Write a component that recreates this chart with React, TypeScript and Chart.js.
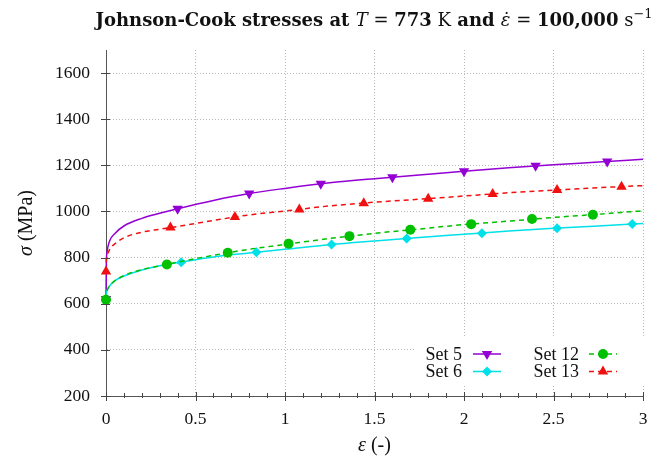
import React, { useEffect, useRef } from 'react';
import { Chart, registerables } from 'chart.js';

Chart.register(...registerables);

// ---- data ----
const STRAIN = [0, 0.002, 0.006, 0.02, 0.05, 0.1, 0.2, 0.3, 0.4, 0.6, 0.8, 1.0, 1.25, 1.5, 1.75, 2.0, 2.25, 2.5, 2.75, 3.0];

const SET5_CURVE = [620, 775, 825, 872, 905, 937, 970, 992, 1012, 1048, 1078, 1100, 1124, 1142, 1158, 1174, 1189, 1203, 1214, 1226];
const SET6_CURVE = [617, 640, 658, 677, 700, 720, 746, 765, 778, 803, 820, 836, 856, 872, 887, 901, 915, 927, 937, 948];
const SET12_CURVE = [617, 638, 655, 677, 700, 722, 748, 764, 780, 810, 836, 857, 883, 905, 924, 943, 958, 974, 988, 1003];
const SET13_CURVE = [740, 790, 808, 835, 860, 886, 910, 923, 935, 961, 985, 1002, 1024, 1040, 1053, 1067, 1081, 1092, 1103, 1112];

const SET5_MARK_X = [0, 0.4, 0.8, 1.2, 1.6, 2.0, 2.4, 2.8];
const SET5_MARK_Y = [620, 1012, 1078, 1120, 1148, 1174, 1198, 1217];
const SET6_MARK_X = [0, 0.42, 0.84, 1.26, 1.68, 2.1, 2.52, 2.94];
const SET6_MARK_Y = [617, 780, 823, 857, 883, 906, 927, 946];
const SET12_MARK_X = [0, 0.34, 0.68, 1.02, 1.36, 1.7, 2.04, 2.38, 2.72];
const SET12_MARK_Y = [617, 770, 821, 860, 893, 921, 945, 967, 986];
const SET13_MARK_X = [0, 0.36, 0.72, 1.08, 1.44, 1.8, 2.16, 2.52, 2.88];
const SET13_MARK_Y = [740, 930, 976, 1008, 1036, 1055, 1076, 1093, 1107];

const X_TICKS = [0, 0.5, 1, 1.5, 2, 2.5, 3];
const Y_TICKS = [200, 400, 600, 800, 1000, 1200, 1400, 1600];
const LEGEND_LABELS = ['Set 5', 'Set 6', 'Set 12', 'Set 13'];

// ---- styles ----
const C5 = '#9400D3';
const C6 = '#00E0E8';
const C12 = '#00C000';
const C13 = '#F01010';
const SERIF = '"Liberation Serif", "Times New Roman", serif';
const TITLE_SERIF = '"DejaVu Serif", serif';

const toPts = (xs: number[], ys: number[]) => xs.map((x, i) => ({ x, y: ys[i] }));

function drawMarker(ctx: CanvasRenderingContext2D, kind: string, x: number, y: number, r: number, color: string) {
  ctx.fillStyle = color;
  ctx.beginPath();
  if (kind === 'circle') {
    ctx.arc(x, y, r, 0, Math.PI * 2);
  } else if (kind === 'diamond') {
    ctx.moveTo(x, y - r); ctx.lineTo(x + r, y); ctx.lineTo(x, y + r); ctx.lineTo(x - r, y);
  } else {
    const base = kind === 'tridown' ? Math.PI : 0;
    for (let k = 0; k < 3; k++) {
      const a = base + (k * 2 * Math.PI) / 3;
      const px = x + Math.sin(a) * r, py = y - Math.cos(a) * r;
      if (k === 0) ctx.moveTo(px, py); else ctx.lineTo(px, py);
    }
  }
  ctx.closePath();
  ctx.fill();
}

type Run = { t: string; f: string; sup?: boolean };

function drawRuns(ctx: CanvasRenderingContext2D, runs: Run[], cx: number, y: number, size: number, family: string) {
  const fontOf = (r: Run) => `${r.f} ${r.sup ? Math.round(size * 0.7) : size}px ${family}`;
  let total = 0;
  const widths = runs.map((r) => { ctx.font = fontOf(r); const w = ctx.measureText(r.t).width; total += w; return w; });
  let x = cx - total / 2;
  ctx.textAlign = 'left';
  runs.forEach((r, i) => {
    ctx.font = fontOf(r);
    ctx.fillText(r.t, x, r.sup ? y - size * 0.42 : y);
    x += widths[i];
  });
}

const decorPlugin = {
  id: 'decor',
  afterDraw(chart: any) {
    const ctx: CanvasRenderingContext2D = chart.ctx;
    const { left, bottom } = chart.chartArea;
    const xs = chart.scales.x, ys = chart.scales.y;
    ctx.save();
    // tick marks
    ctx.strokeStyle = '#444';
    ctx.lineWidth = 1;
    ctx.setLineDash([]);
    ctx.beginPath();
    Y_TICKS.forEach((v) => {
      const py = Math.round(ys.getPixelForValue(v)) + 0.5;
      ctx.moveTo(left - 5, py); ctx.lineTo(left + 4, py);
    });
    X_TICKS.forEach((v) => {
      const px = Math.round(xs.getPixelForValue(v)) + 0.5;
      ctx.moveTo(px, bottom - 4); ctx.lineTo(px, bottom + 5);
    });
    for (let i = 1; i < 30; i++) {
      if (i % 5 === 0) continue;
      const px = Math.round(xs.getPixelForValue(i / 10)) + 0.5;
      ctx.moveTo(px, bottom - 3); ctx.lineTo(px, bottom + 2);
    }
    ctx.stroke();

    // legend
    ctx.fillStyle = '#ffffff';
    ctx.fillRect(416, 338, 230, 46);
    const styles = [
      { c: C5, dash: [] as number[], m: 'tridown', r: 6 },
      { c: C6, dash: [] as number[], m: 'diamond', r: 5 },
      { c: C12, dash: [5, 4], m: 'circle', r: 5 },
      { c: C13, dash: [5, 4], m: 'triup', r: 6 },
    ];
    LEGEND_LABELS.forEach((lab, i) => {
      const col = Math.floor(i / 2), row = i % 2;
      const ty = 354 + row * 17.5;
      const textRight = col === 0 ? 462 : 579;
      const s0 = col === 0 ? 473 : 589;
      const s1 = s0 + 28;
      ctx.fillStyle = '#111';
      ctx.font = `18px ${SERIF}`;
      ctx.textAlign = 'right';
      ctx.textBaseline = 'middle';
      ctx.fillText(lab, textRight, ty + 1);
      const st = styles[i];
      ctx.strokeStyle = st.c;
      ctx.lineWidth = 1.5;
      ctx.setLineDash(st.dash);
      ctx.beginPath();
      ctx.moveTo(s0, ty); ctx.lineTo(s1, ty);
      ctx.stroke();
      ctx.setLineDash([]);
      drawMarker(ctx, st.m, (s0 + s1) / 2, ty, st.r, st.c);
    });

    // title
    ctx.fillStyle = '#111';
    ctx.textBaseline = 'alphabetic';
    drawRuns(ctx, [
      { t: 'Johnson-Cook stresses at ', f: 'bold' },
      { t: 'T', f: 'italic' },
      { t: ' = ', f: 'normal' },
      { t: '773', f: 'bold' },
      { t: ' K', f: 'normal' },
      { t: ' and ', f: 'bold' },
      { t: '\u03B5\u0307', f: 'italic' },
      { t: ' = ', f: 'normal' },
      { t: '100,000', f: 'bold' },
      { t: ' s', f: 'normal' },
      { t: '\u22121', f: 'normal', sup: true },
    ], 374, 26, 18, TITLE_SERIF);

    // axis titles
    ctx.textBaseline = 'middle';
    drawRuns(ctx, [
      { t: '\u03B5', f: 'italic' },
      { t: ' (-)', f: 'normal' },
    ], (xs.left + xs.right) / 2, 446, 20, SERIF);
    ctx.save();
    ctx.translate(27, 223);
    ctx.rotate(-Math.PI / 2);
    drawRuns(ctx, [
      { t: '\u03C3', f: 'italic' },
      { t: ' (MPa)', f: 'normal' },
    ], 0, 0, 20, SERIF);
    ctx.restore();
    ctx.restore();
  },
};

export default function App() {
  const ref = useRef<HTMLCanvasElement>(null);
  useEffect(() => {
    document.body.style.margin = '0';
    const lineBase = { pointRadius: 0, borderWidth: 1.5, fill: false, cubicInterpolationMode: 'monotone', clip: false, pointHitRadius: 0 };
    const markBase = { showLine: false, borderWidth: 0, pointBorderWidth: 0, clip: false };
    const chart = new Chart(ref.current as HTMLCanvasElement, {
      type: 'line',
      data: {
        datasets: [
          { ...lineBase, label: 'Set 5', data: toPts(STRAIN, SET5_CURVE), borderColor: C5, order: 8 },
          { ...markBase, label: 'Set 5 m', data: toPts(SET5_MARK_X, SET5_MARK_Y), pointStyle: 'triangle', pointRotation: 180, pointRadius: 6, backgroundColor: C5, borderColor: C5, order: 7 },
          { ...lineBase, label: 'Set 6', data: toPts(STRAIN, SET6_CURVE), borderColor: C6, order: 6 },
          { ...markBase, label: 'Set 6 m', data: toPts(SET6_MARK_X, SET6_MARK_Y), pointStyle: 'rectRot', pointRadius: 5, backgroundColor: C6, borderColor: C6, order: 5 },
          { ...lineBase, label: 'Set 12', data: toPts(STRAIN, SET12_CURVE), borderColor: C12, borderDash: [5, 4], order: 4 },
          { ...markBase, label: 'Set 12 m', data: toPts(SET12_MARK_X, SET12_MARK_Y), pointStyle: 'circle', pointRadius: 5, backgroundColor: C12, borderColor: C12, order: 3 },
          { ...lineBase, label: 'Set 13', data: toPts(STRAIN, SET13_CURVE), borderColor: C13, borderDash: [5, 4], order: 2 },
          { ...markBase, label: 'Set 13 m', data: toPts(SET13_MARK_X, SET13_MARK_Y), pointStyle: 'triangle', pointRadius: 6, backgroundColor: C13, borderColor: C13, order: 1 },
        ] as any,
      },
      options: {
        responsive: false,
        animation: false,
        devicePixelRatio: 1,
        events: [],
        layout: { padding: { top: 50, right: 27, left: 0, bottom: 0 } },
        plugins: { legend: { display: false }, tooltip: { enabled: false }, title: { display: false } },
        scales: {
          x: {
            type: 'linear',
            min: 0,
            max: 3,
            afterBuildTicks: (s: any) => { s.ticks = X_TICKS.map((v) => ({ value: v })); },
            afterFit: (s: any) => { s.height = 67; },
            grid: { color: '#b8b8b8', drawTicks: false, lineWidth: 1 },
            border: { display: true, color: '#555', width: 1, dash: [1, 2] },
            ticks: { padding: 13, color: '#111', font: { family: SERIF, size: 17.5 }, maxRotation: 0, autoSkip: false, callback: (v: any) => String(v) },
          },
          y: {
            type: 'linear',
            min: 200,
            max: 1700,
            afterBuildTicks: (s: any) => { s.ticks = Y_TICKS.map((v) => ({ value: v })); },
            afterFit: (s: any) => { s.width = 106; },
            grid: { color: '#b8b8b8', drawTicks: false, lineWidth: 1 },
            border: { display: true, color: '#555', width: 1, dash: [1, 2] },
            ticks: { padding: 16, color: '#111', font: { family: SERIF, size: 17.5 }, autoSkip: false, callback: (v: any) => String(v) },
          },
        },
      } as any,
      plugins: [decorPlugin],
    });
    return () => chart.destroy();
  }, []);
  return (
    <div style={{ position: 'absolute', left: 0, top: 0, width: 670, height: 463, background: '#fff' }}>
      <canvas ref={ref} width={670} height={463} style={{ display: 'block' }} />
    </div>
  );
}
